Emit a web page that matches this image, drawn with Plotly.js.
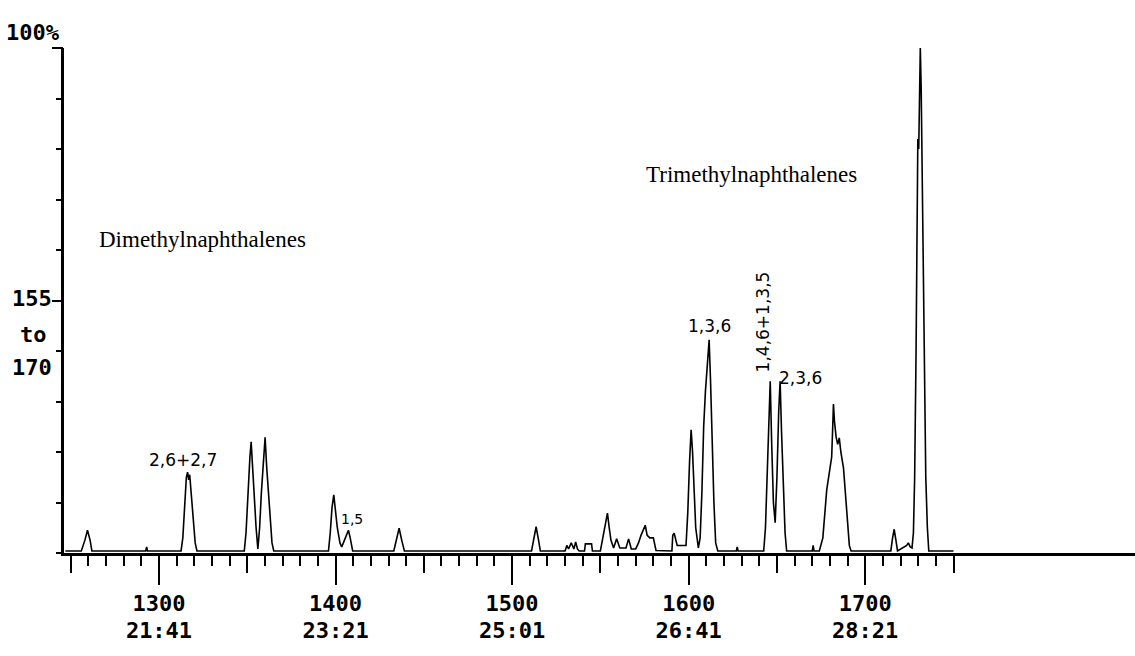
<!DOCTYPE html>
<html>
<head>
<meta charset="utf-8">
<script src="https://cdn.plot.ly/plotly-3.0.1.min.js"></script>
<style>
  html, body { margin: 0; padding: 0; background: #fff; }
  #chart { width: 1135px; height: 656px; }
</style>
</head>
<body>
<div id="chart"></div>
<script>
// Scan number (x) and relative abundance in % (y)
const scanNumber = [
  1247, 1256, 1258, 1259.5, 1261, 1262,
  1292.5, 1293, 1293.5,
  1312.5, 1313.5, 1314.5, 1315.5, 1316.2, 1316.8, 1317.4, 1318.2, 1319.2, 1320.5, 1321.5,
  1348.3, 1349.3, 1350.5, 1351.5, 1352.2, 1353, 1354, 1355, 1356, 1357, 1358, 1359.2, 1360.1, 1361, 1362, 1363, 1364, 1365,
  1396, 1397, 1398, 1399, 1400, 1401, 1402.5, 1403.5, 1405, 1406.5, 1407.3, 1408.3, 1409.7,
  1433, 1434.5, 1436, 1437.5, 1439,
  1511, 1512.5, 1513.6, 1515, 1516,
  1530, 1531, 1532, 1533.5, 1535, 1536, 1537, 1538,
  1541, 1541.5, 1545, 1545.5,
  1550, 1551.5, 1553, 1554, 1555, 1556, 1557.5, 1559.2, 1561, 1564.5, 1566, 1567.5,
  1570, 1571.6, 1573, 1574.5, 1575.4, 1576.5, 1578, 1580, 1581.5,
  1590.5, 1591, 1591.8, 1592.6, 1593.5, 1598.5, 1599.5, 1600.5, 1601.4, 1602.2, 1603, 1604, 1605.5,
  1606.5, 1607.5, 1608.5, 1609.5, 1610.5, 1611.6, 1612.4, 1613.3, 1614.3, 1615.3, 1616.5,
  1627, 1627.5, 1628,
  1642.5, 1643.5, 1644.5, 1645.4, 1646.2, 1647, 1648, 1649, 1650, 1651, 1651.8, 1652.6, 1653.6, 1654.6, 1655.5,
  1670, 1670.5, 1671,
  1674, 1676, 1678.2, 1680, 1681, 1681.6, 1682, 1682.6, 1683.5, 1684.4, 1685.3, 1686.2, 1687.7, 1689.6, 1691, 1692,
  1714.5, 1715.5, 1716.4, 1717.4, 1718.3,
  1723.5, 1724.4, 1725.5,
  1726.5, 1727.3, 1728, 1728.8, 1729.3, 1729.8, 1730.3, 1730.8, 1731.2, 1731.7, 1732.2, 1732.8, 1733.5, 1734.3, 1735.2, 1736,
  1750
];
const abundance = [
  0.4, 0.4, 2.5, 4.5, 2.5, 0.4,
  0.4, 1.2, 0.4,
  0.4, 3, 10, 15, 16, 14.5, 15.5, 12, 6, 2, 0.4,
  0.4, 4, 14, 19, 22, 17, 10, 5, 0.8, 5, 12, 18, 22.9, 17, 12, 5, 2, 0.4,
  0.4, 4, 9, 11.5, 8, 5, 2, 1.2, 2.5, 4, 4.5, 3, 0.4,
  0.4, 3, 4.9, 2.5, 0.4,
  0.4, 3, 5.2, 2.5, 0.4,
  0.4, 1.5, 0.8, 2, 0.8, 2.2, 0.8, 0.4,
  0.4, 1.8, 1.8, 0.4,
  0.4, 3, 6, 7.9, 5, 2.5, 1, 2.8, 1, 1, 2.8, 0.8,
  0.8, 2, 3.5, 5, 5.5, 3.5, 3, 3, 0.5,
  0.4, 3.5, 3.9, 2.5, 1.5, 1.5, 8, 18, 24.4, 20, 12, 5, 1,
  3, 12, 25, 32, 38, 42.2, 34, 22, 10, 2, 0.4,
  0.4, 1.2, 0.4,
  0.4, 5, 15, 26, 34, 22, 10, 6, 15, 28, 34, 24, 12, 4, 0.4,
  0.4, 1.5, 0.4,
  0.4, 3, 12.5, 17, 19, 25, 29.5, 26, 23, 21.5, 22.8, 20, 16.8, 8, 1.5, 0.4,
  0.4, 3, 4.7, 2.5, 0.4,
  1.5, 2, 1.2,
  1, 4, 15, 40, 65, 82, 80, 98, 100, 92, 75, 62, 40, 15, 5, 0.4,
  0.4
];

// Axis ticks and labels
const majorTicks = [1300, 1400, 1500, 1600, 1700];
const scanLabels = ["1300", "1400", "1500", "1600", "1700"];
const timeLabels = ["21:41", "23:21", "25:01", "26:41", "28:21"];
const mediumTicks = [1250, 1350, 1450, 1550, 1650, 1750];
const minorTicks = [1260, 1270, 1280, 1290, 1310, 1320, 1330, 1340, 1360, 1370, 1380, 1390,
  1410, 1420, 1430, 1440, 1460, 1470, 1480, 1490, 1510, 1520, 1530, 1540,
  1560, 1570, 1580, 1590, 1610, 1620, 1630, 1640, 1660, 1670, 1680, 1690,
  1710, 1720, 1730, 1740];
const yTicks = [0, 10, 20, 30, 40, 50, 60, 70, 80, 90, 100];
const yLongTicks = [50, 100];

// Peak labels
const peakLabels = ["2,6+2,7", "1,5", "1,3,6", "1,4,6+1,3,5", "2,3,6", "1,2,5"];
const peakLabelX = [1313.6, 1409.3, 1611.6, 1642.2, 1663.2, 1731.7];
const peakLabelY = [18.4, 6.7, 45, 45.7, 34.7, 103.6];
const groupLabels = ["Dimethylnaphthalenes", "Trimethylnaphthalenes"];
const groupLabelX = [1324.4, 1635.4];
const groupLabelY = [62, 74.9];

const XR = [1246.2, 1852.8];
const monoFont = "DejaVu Sans Mono, Liberation Mono, monospace";
const handFont = "DejaVu Sans, sans-serif";

const trace = {
  x: scanNumber, y: abundance, type: "scatter", mode: "lines",
  line: { color: "#000", width: 1.6 }, cliponaxis: false,
  hoverinfo: "skip", showlegend: false
};
// transparent copies so the overlaid tick axes are drawn
const ghost = (xa, ya) => ({
  x: scanNumber, y: abundance, xaxis: xa, yaxis: ya, type: "scatter", mode: "lines",
  line: { color: "rgba(0,0,0,0)", width: 0 }, hoverinfo: "skip", showlegend: false
});

const annotations = [];
peakLabels.forEach((t, i) => {
  annotations.push({
    x: peakLabelX[i], y: peakLabelY[i], xref: "x", yref: "y", text: t,
    showarrow: false, xanchor: "center", yanchor: "middle",
    textangle: t === "1,4,6+1,3,5" ? -90 : 0,
    font: { family: handFont, size: t === "1,5" ? 14 : 17, color: "#000" }
  });
});
groupLabels.forEach((t, i) => {
  annotations.push({
    x: groupLabelX[i], y: groupLabelY[i], xref: "x", yref: "y", text: t,
    showarrow: false, xanchor: "center", yanchor: "middle",
    font: { family: "Liberation Serif, serif", size: 23, color: "#000" }
  });
});
const sideText = [["100%", 1.030, -0.002], ["155", 0.503, -0.009], ["to", 0.433, -0.014], ["170", 0.367, -0.009]];
sideText.forEach(s => {
  annotations.push({
    x: s[2], y: s[1], xref: "paper", yref: "paper", text: s[0],
    showarrow: false, xanchor: "right", yanchor: "middle",
    font: { family: monoFont, size: 22, color: "#000", weight: "bold" }
  });
});

const baseX = { range: XR, showgrid: false, zeroline: false, fixedrange: true };

const layout = {
  width: 1135, height: 656,
  margin: { l: 64, r: 0, t: 48, b: 103 },
  paper_bgcolor: "#fff", plot_bgcolor: "#fff",
  showlegend: false,
  xaxis: Object.assign({}, baseX, {
    tickmode: "array", tickvals: majorTicks, ticktext: scanLabels,
    ticks: "outside", ticklen: 29, tickwidth: 2, tickcolor: "#000",
    showline: true, linewidth: 3, linecolor: "#000",
    tickfont: { family: monoFont, size: 22, color: "#000", weight: "bold" }
  }),
  xaxis2: Object.assign({}, baseX, {
    overlaying: "x", anchor: "y", side: "bottom",
    tickmode: "array", tickvals: mediumTicks, showticklabels: false,
    ticks: "outside", ticklen: 19, tickwidth: 2, tickcolor: "#000", showline: false
  }),
  xaxis3: Object.assign({}, baseX, {
    overlaying: "x", anchor: "y", side: "bottom",
    tickmode: "array", tickvals: minorTicks, showticklabels: false,
    ticks: "outside", ticklen: 12, tickwidth: 2, tickcolor: "#000", showline: false
  }),
  xaxis4: Object.assign({}, baseX, {
    overlaying: "x", anchor: "y", side: "bottom",
    tickmode: "array", tickvals: majorTicks, ticktext: timeLabels,
    ticks: "", ticklabelstandoff: 62, showline: false,
    tickfont: { family: monoFont, size: 22, color: "#000", weight: "bold" }
  }),
  yaxis: {
    range: [0, 100], showgrid: false, zeroline: false, fixedrange: true,
    tickmode: "array", tickvals: yTicks, showticklabels: false,
    ticks: "outside", ticklen: 5, tickwidth: 2, tickcolor: "#000",
    showline: true, linewidth: 3, linecolor: "#000"
  },
  yaxis2: {
    range: [0, 100], overlaying: "y", anchor: "x", side: "left",
    showgrid: false, zeroline: false, fixedrange: true,
    tickmode: "array", tickvals: yLongTicks, showticklabels: false,
    ticks: "outside", ticklen: 11, tickwidth: 2, tickcolor: "#000", showline: false
  },
  annotations: annotations
};

Plotly.newPlot("chart",
  [ghost("x2", "y"), ghost("x3", "y"), ghost("x4", "y"), ghost("x", "y2"), trace],
  layout, { staticPlot: true, displayModeBar: false });
</script>
</body>
</html>
